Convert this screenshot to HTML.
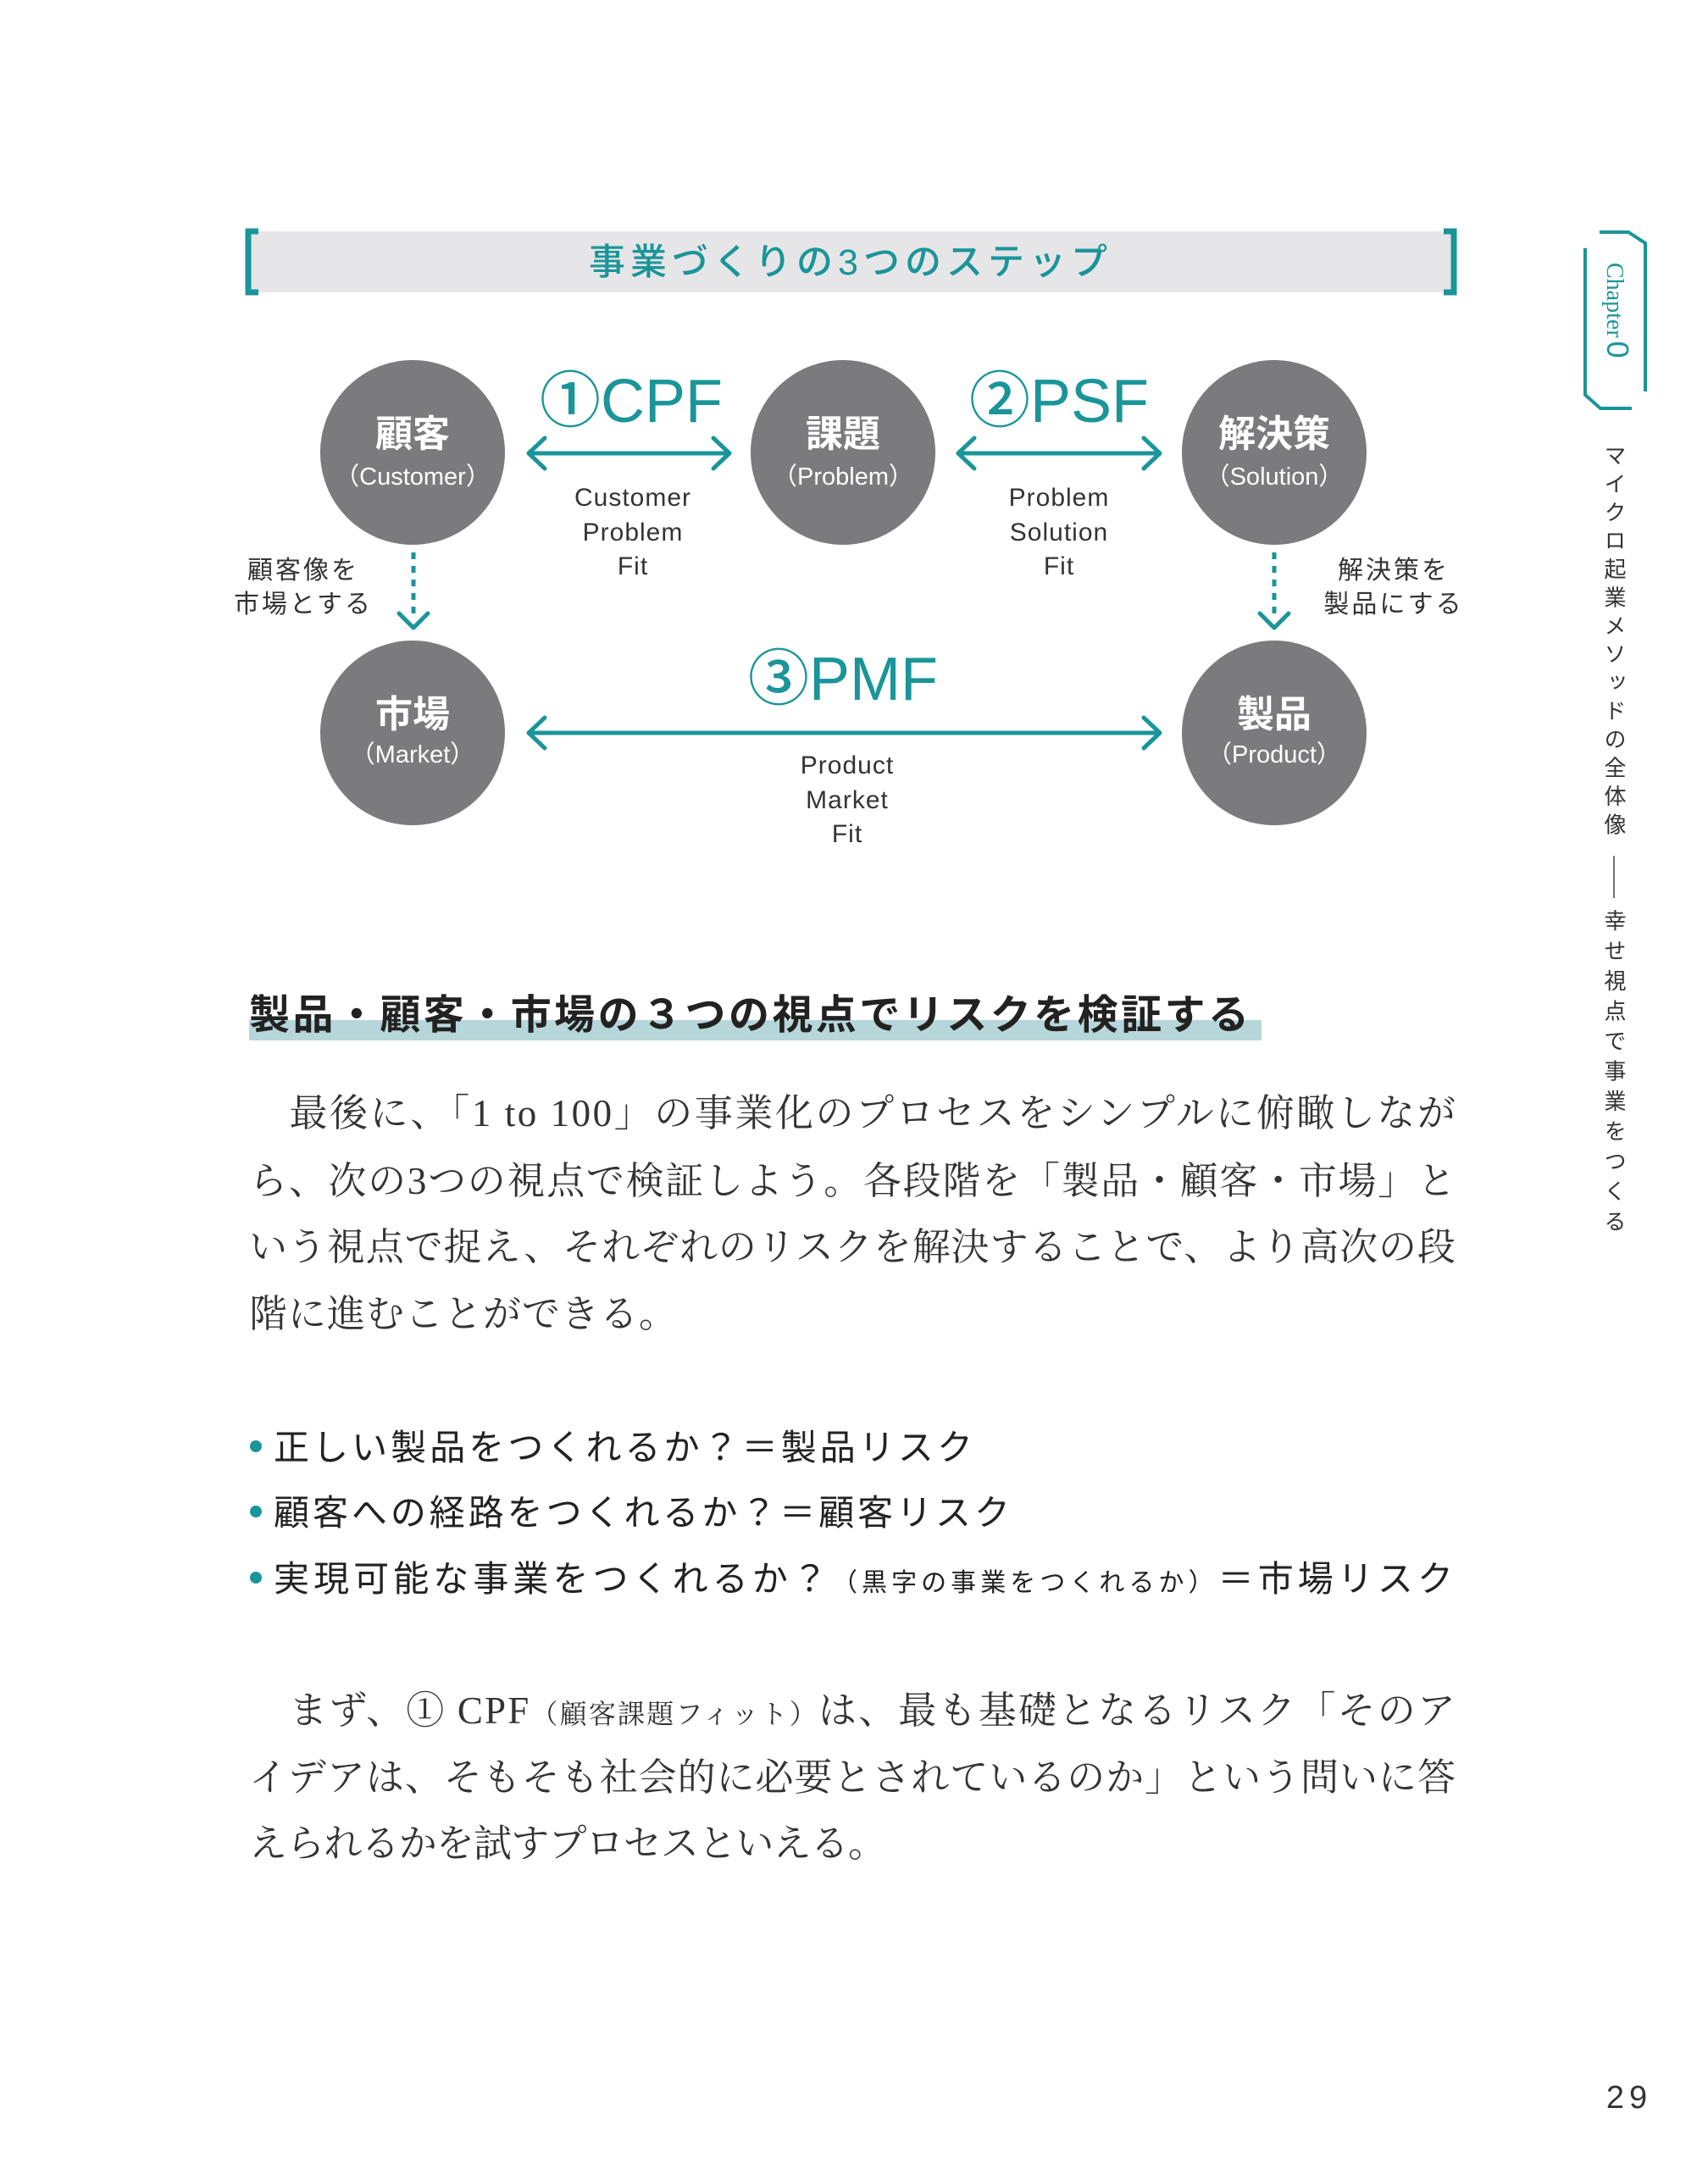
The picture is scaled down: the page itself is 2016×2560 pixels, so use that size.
<!DOCTYPE html>
<html><head><meta charset="utf-8"><style>
html,body{margin:0;padding:0;background:#fff}
svg{display:block}
.s{font-family:"Liberation Sans","Noto Sans CJK JP",sans-serif}
.m{font-family:"Liberation Serif","Noto Serif CJK SC",serif}
</style></head><body>
<svg width="2016" height="2560" viewBox="0 0 2016 2560" xmlns="http://www.w3.org/2000/svg">
<rect width="2016" height="2560" fill="#fff"/>
<rect x="291" y="273" width="1427" height="72" fill="#e6e6e8"/>
<path d="M305 273 H293 V345 H305" fill="none" stroke="#1a9599" stroke-width="7"/>
<path d="M1704 273 H1716 V345 H1704" fill="none" stroke="#1a9599" stroke-width="7"/>
<text x="1004" y="324" text-anchor="middle" class="s" font-size="43" font-weight="500" fill="#1a9599" letter-spacing="6">事業づくりの3つのステップ</text>

<g fill="#7b7b7d">
<circle cx="487" cy="534" r="109"/>
<circle cx="995" cy="534" r="109"/>
<circle cx="1504" cy="534" r="109"/>
<circle cx="487" cy="865" r="109"/>
<circle cx="1504" cy="865" r="109"/>
</g>
<g class="s" fill="#fff" text-anchor="middle">
<text x="487" y="527" font-size="44" font-weight="bold">顧客</text>
<text x="487" y="572" font-size="29">（Customer）</text>
<text x="995" y="527" font-size="44" font-weight="bold">課題</text>
<text x="995" y="572" font-size="29">（Problem）</text>
<text x="1504" y="527" font-size="44" font-weight="bold">解決策</text>
<text x="1504" y="572" font-size="29">（Solution）</text>
<text x="487" y="858" font-size="44" font-weight="bold">市場</text>
<text x="487" y="900" font-size="29">（Market）</text>
<text x="1504" y="858" font-size="44" font-weight="bold">製品</text>
<text x="1504" y="900" font-size="29">（Product）</text>
</g>

<g stroke="#1a9599" stroke-width="5" fill="none" stroke-linecap="round" stroke-linejoin="round">
<path d="M624 535 H861 M643 517 L624 535 L643 553 M842 517 L861 535 L842 553"/>
<path d="M1131 535 H1369 M1150 517 L1131 535 L1150 553 M1350 517 L1369 535 L1350 553"/>
<path d="M624 865 H1369 M643 847 L624 865 L643 883 M1350 847 L1369 865 L1350 883"/>
<path d="M488 652 V728" stroke-dasharray="8 8" stroke-linecap="butt"/>
<path d="M471 724 L488 741 L505 724"/>
<path d="M1504 652 V728" stroke-dasharray="8 8" stroke-linecap="butt"/>
<path d="M1487 724 L1504 741 L1521 724"/>
</g>
<g class="s" fill="#1a9599" text-anchor="middle" font-weight="500">
<text x="745" y="498" font-size="72">①CPF</text>
<text x="1250" y="498" font-size="72">②PSF</text>
<text x="995" y="826" font-size="72">③PMF</text>
</g>
<g class="s" fill="#333" text-anchor="middle" font-size="30" letter-spacing="1">
<text x="747" y="597">Customer</text>
<text x="747" y="638">Problem</text>
<text x="747" y="678">Fit</text>
<text x="1250" y="597">Problem</text>
<text x="1250" y="638">Solution</text>
<text x="1250" y="678">Fit</text>
<text x="1000" y="913">Product</text>
<text x="1000" y="954">Market</text>
<text x="1000" y="994">Fit</text>
<text x="358" y="683" letter-spacing="3">顧客像を</text>
<text x="358" y="723" letter-spacing="3">市場とする</text>
<text x="1645" y="683" letter-spacing="3">解決策を</text>
<text x="1645" y="723" letter-spacing="3">製品にする</text>
</g>

<rect x="294" y="1204" width="1195" height="24" fill="#b7d6d9"/>
<text x="294" y="1214" class="s" font-size="48" font-weight="bold" fill="#222" textLength="1180" lengthAdjust="spacing">製品・顧客・市場の３つの視点でリスクを検証する</text>

<g class="m" font-size="45" fill="#333">
<text x="294" y="1329" textLength="1424" lengthAdjust="spacing">　最後に、「1 to 100」の事業化のプロセスをシンプルに俯瞰しなが</text>
<text x="294" y="1409" textLength="1424" lengthAdjust="spacing">ら、次の3つの視点で検証しよう。各段階を「製品・顧客・市場」と</text>
<text x="294" y="1487" textLength="1424" lengthAdjust="spacing">いう視点で捉え、それぞれのリスクを解決することで、より高次の段</text>
<text x="294" y="1566" textLength="505" lengthAdjust="spacing">階に進むことができる。</text>
</g>

<g fill="#1a9599"><circle cx="302" cy="1707" r="7"/><circle cx="302" cy="1784" r="7"/><circle cx="302" cy="1862" r="7"/></g>
<g class="s" font-size="42" fill="#222">
<text x="323" y="1723" textLength="825" lengthAdjust="spacing">正しい製品をつくれるか？＝製品リスク</text>
<text x="323" y="1800" textLength="869" lengthAdjust="spacing">顧客への経路をつくれるか？＝顧客リスク</text>
<text x="323" y="1878" textLength="1392" lengthAdjust="spacing">実現可能な事業をつくれるか？<tspan font-size="30">（黒字の事業をつくれるか）</tspan>＝市場リスク</text>
</g>

<g class="m" font-size="45" fill="#333">
<text x="294" y="2034" textLength="1424" lengthAdjust="spacing">　まず、① CPF<tspan font-size="32">（顧客課題フィット）</tspan>は、最も基礎となるリスク「そのア</text>
<text x="294" y="2113" textLength="1424" lengthAdjust="spacing">イデアは、そもそも社会的に必要とされているのか」という問いに答</text>
<text x="294" y="2191" textLength="752" lengthAdjust="spacing">えられるかを試すプロセスといえる。</text>
</g>

<g stroke="#1a9599" stroke-width="4" fill="none">
<path d="M1888 274 H1922 L1942 287 V462"/>
<path d="M1871 293 V466 L1889 482 H1926"/>
</g>
<text transform="translate(1897,310) rotate(90)" class="m" font-size="28" fill="#1a9599">Chapter<tspan font-size="36" class="s" dx="4">0</tspan></text>
<g class="s" font-size="26" fill="#333">
<text x="1905" y="524" style="writing-mode:vertical-rl" letter-spacing="7.5">マイクロ起業メソッドの全体像</text>
<line x1="1905" y1="1010" x2="1905" y2="1060" stroke="#444" stroke-width="1.5"/>
<text x="1905" y="1073" style="writing-mode:vertical-rl" letter-spacing="9.5">幸せ視点で事業をつくる</text>
</g>

<text x="1923" y="2488" text-anchor="middle" class="s" font-size="38" fill="#333" letter-spacing="6">29</text>
</svg>
</body></html>
